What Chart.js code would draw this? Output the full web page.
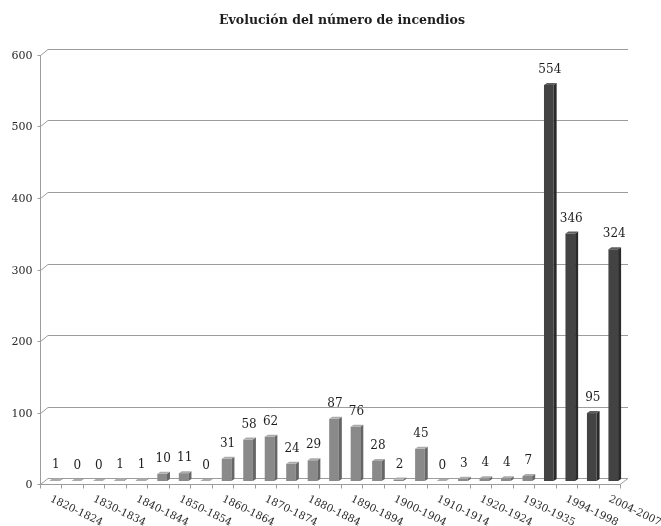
<!DOCTYPE html>
<html>
<head>
<meta charset="utf-8">
<script src="https://cdn.jsdelivr.net/npm/chart.js@4/dist/chart.umd.min.js"></script>
<style>
  html, body { margin: 0; padding: 0; background: #fff; }
  #wrap { width: 661px; height: 526px; }
</style>
</head>
<body>
<div id="wrap"><canvas id="c"></canvas></div>
<script>
// Number of fires per period
const periods = [
  '1820-1824', '1825-1829', '1830-1834', '1835-1839', '1840-1844', '1845-1849',
  '1850-1854', '1855-1859', '1860-1864', '1865-1869', '1870-1874', '1875-1879',
  '1880-1884', '1885-1889', '1890-1894', '1895-1899', '1900-1904', '1905-1909',
  '1910-1914', '1915-1919', '1920-1924', '1925-1929', '1930-1935', '1989-1993',
  '1994-1998', '1999-2003', '2004-2007'
];
const fires = [
  1, 0, 0, 1, 1, 10, 11, 0, 31, 58, 62, 24, 29, 87, 76, 28, 2, 45, 0, 3, 4, 4, 7,
  554, 346, 95, 324
];
// Period labels printed under the axis (every other one)
const axisLabels = [
  '1820-1824', '1830-1834', '1840-1844', '1850-1854', '1860-1864', '1870-1874',
  '1880-1884', '1890-1894', '1900-1904', '1910-1914', '1920-1924', '1930-1935',
  '1994-1998', '2004-2007'
];
const yTicks = [0, 100, 200, 300, 400, 500, 600];
const title = 'Evolución del número de incendios';
// first period of the recent series (darker bars)
const recentFrom = '1989-1993';

const SERIF = '"DejaVu Serif", "Liberation Serif", serif';
const DX = 4, DY = 3;           // half depth of the 3D walls
const BAR_DX = 3, BAR_DY = 2;   // depth of each bar
const recentIdx = periods.indexOf(recentFrom);

const shades = i => i >= recentIdx
  ? { face: '#434343', side: '#2a2a2a', top: '#5e5e5e' }
  : { face: '#8a8a8a', side: '#666666', top: '#ababab' };

const depthPlugin = {
  id: 'depth',
  beforeDatasetsDraw(chart) {
    const { ctx, chartArea: a, scales: { x, y } } = chart;
    ctx.save();
    // title
    ctx.fillStyle = '#1e1e1e';
    ctx.font = 'bold 12.5px ' + SERIF;
    ctx.textAlign = 'center';
    ctx.textBaseline = 'middle';
    ctx.fillText(title, 342, 21);

    ctx.strokeStyle = '#9c9c9c';
    ctx.lineWidth = 1;
    ctx.font = '11px ' + SERIF;
    ctx.textAlign = 'right';
    ctx.fillStyle = '#2a2a2a';
    const fx = Math.round(a.left - DX) + 0.5;
    yTicks.forEach(v => {
      const py = Math.round(y.getPixelForValue(v));
      ctx.beginPath();
      ctx.moveTo(fx - 3, py + DY + 0.5);
      ctx.lineTo(fx, py + DY + 0.5);
      ctx.lineTo(a.left + DX, py - DY + 0.5);
      ctx.lineTo(a.right + DX, py - DY + 0.5);
      ctx.stroke();
      ctx.fillText(String(v), fx - 8, py + DY + 1);
    });
    // vertical axis
    const top = Math.round(y.getPixelForValue(yTicks[yTicks.length - 1])) + DY;
    const bot = Math.round(y.getPixelForValue(0)) + DY + 0.5;
    ctx.beginPath();
    ctx.moveTo(fx, top);
    ctx.lineTo(fx, bot);
    ctx.stroke();
    // floor: front edge and right side
    ctx.beginPath();
    ctx.moveTo(fx, bot);
    ctx.lineTo(a.right - DX, bot);
    ctx.lineTo(a.right + DX, bot - 2 * DY);
    ctx.stroke();
    // category tick marks
    const step = a.width / periods.length;
    ctx.beginPath();
    for (let i = 0; i <= periods.length; i++) {
      const tx = Math.round(a.left + i * step - DX) + 0.5;
      ctx.moveTo(tx, bot);
      ctx.lineTo(tx, bot + 4);
    }
    ctx.stroke();
    // slanted period labels
    ctx.font = '10.5px ' + SERIF;
    ctx.textAlign = 'left';
    ctx.fillStyle = '#2a2a2a';
    axisLabels.forEach(lbl => {
      const i = periods.indexOf(lbl);
      const cx = x.getPixelForValue(i);
      ctx.save();
      ctx.translate(cx - 4, bot + 14);
      ctx.rotate(26 * Math.PI / 180);
      ctx.fillText(lbl, 0, 0);
      ctx.restore();
    });
    ctx.restore();
  },
  afterDatasetsDraw(chart) {
    const { ctx } = chart;
    const meta = chart.getDatasetMeta(0);
    const data = chart.data.datasets[0].data;
    ctx.save();
    meta.data.forEach((bar, i) => {
      const { x, y, base, width } = bar.getProps(['x', 'y', 'base', 'width'], true);
      const l = x - width / 2, r = x + width / 2;
      const c = shades(i);
      ctx.fillStyle = c.side;
      ctx.beginPath();
      ctx.moveTo(r, y);
      ctx.lineTo(r + BAR_DX, y - BAR_DY);
      ctx.lineTo(r + BAR_DX, base - BAR_DY);
      ctx.lineTo(r, base);
      ctx.closePath();
      ctx.fill();
      ctx.fillStyle = c.top;
      ctx.beginPath();
      ctx.moveTo(l, y);
      ctx.lineTo(l + BAR_DX, y - BAR_DY);
      ctx.lineTo(r + BAR_DX, y - BAR_DY);
      ctx.lineTo(r, y);
      ctx.closePath();
      ctx.fill();
      // value label
      ctx.fillStyle = '#1e1e1e';
      ctx.font = '12px ' + SERIF;
      ctx.textAlign = 'center';
      ctx.textBaseline = 'middle';
      ctx.fillText(String(data[i]), x + 1, y - 15);
    });
    ctx.restore();
  }
};

new Chart(document.getElementById('c'), {
  type: 'bar',
  data: {
    labels: periods,
    datasets: [{
      data: fires,
      backgroundColor: ctx => shades(ctx.dataIndex).face,
      borderWidth: 0,
      barPercentage: 0.45,
      categoryPercentage: 1
    }]
  },
  options: {
    responsive: true,
    maintainAspectRatio: false,
    animation: false,
    layout: { padding: { left: 44, right: 37, top: 52, bottom: 45 } },
    plugins: { legend: { display: false }, tooltip: { enabled: false } },
    scales: {
      x: { display: false },
      y: { display: false, min: 0, max: 600 }
    }
  },
  plugins: [depthPlugin]
});
</script>
</body>
</html>
